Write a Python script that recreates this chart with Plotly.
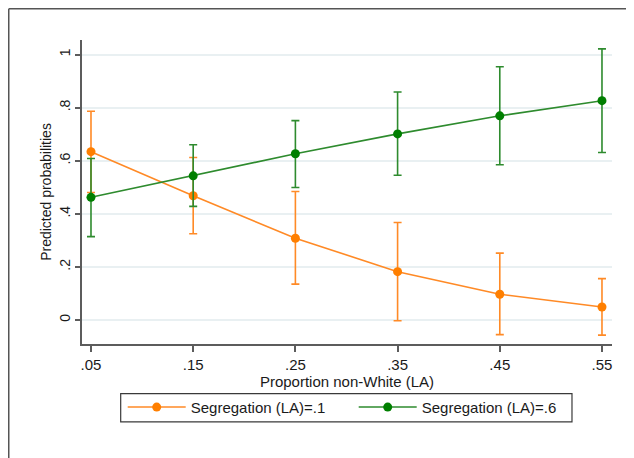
import plotly.graph_objects as go

# ---- data ----
x_vals = [0.05, 0.15, 0.25, 0.35, 0.45, 0.55]
x_ticktext = [".05", ".15", ".25", ".35", ".45", ".55"]
y_tickvals = [0, 0.2, 0.4, 0.6, 0.8, 1.0]
y_ticktext = ["0", ".2", ".4", ".6", ".8", "1"]

seg01_name = "Segregation (LA)=.1"
seg01_prob = [0.634, 0.468, 0.308, 0.182, 0.097, 0.049]
seg01_lo = [0.480, 0.325, 0.135, -0.003, -0.055, -0.057]
seg01_hi = [0.786, 0.612, 0.484, 0.367, 0.252, 0.156]

seg06_name = "Segregation (LA)=.6"
seg06_prob = [0.462, 0.543, 0.626, 0.701, 0.769, 0.826]
seg06_lo = [0.314, 0.428, 0.499, 0.545, 0.585, 0.631]
seg06_hi = [0.608, 0.660, 0.751, 0.859, 0.954, 1.021]

FONT = "Liberation Sans, Arial, Helvetica, sans-serif"
ORANGE_M = "#ff7f00"
ORANGE_L = "#ff8a26"
GREEN_M = "#007f00"
GREEN_L = "#2e8b2e"
AXIS = "#5c5c5c"


def series(name, x, y, lo, hi, mcol, lcol):
    plus = [h - v for h, v in zip(hi, y)]
    minus = [v - l for v, l in zip(y, lo)]
    return go.Scatter(
        x=x, y=y, name=name, mode="lines+markers",
        line=dict(color=lcol, width=1.6),
        marker=dict(color=mcol, size=9),
        error_y=dict(type="data", symmetric=False, array=plus, arrayminus=minus,
                     color=lcol, thickness=1.6, width=4),
    )


fig = go.Figure()
fig.add_trace(series(seg01_name, x_vals, seg01_prob, seg01_lo, seg01_hi, ORANGE_M, ORANGE_L))
fig.add_trace(series(seg06_name, x_vals, seg06_prob, seg06_lo, seg06_hi, GREEN_M, GREEN_L))

fig.update_layout(
    width=626, height=450,
    margin=dict(l=74, r=22, t=32, b=114, autoexpand=False),
    paper_bgcolor="white", plot_bgcolor="white",
    font=dict(family=FONT, size=15, color="#1a1a1a"),
    showlegend=True,
    legend=dict(
        orientation="h", x=0.0768, xanchor="left", y=-0.154, yanchor="top",
        borderwidth=0, bgcolor="rgba(0,0,0,0)",
        font=dict(size=15, family=FONT, color="#1a1a1a"),
        itemwidth=58, entrywidth=158, entrywidthmode="pixels",
    ),
    xaxis=dict(
        range=[0.0412, 0.5598], tickmode="array", tickvals=x_vals, ticktext=x_ticktext,
        showgrid=False, zeroline=False,
        showline=True, linecolor=AXIS, linewidth=1.5,
        ticks="outside", ticklen=6, tickwidth=1.5, tickcolor=AXIS,
        tickfont=dict(size=15, family=FONT, color="#1a1a1a"),
        title=dict(text="Proportion non-White (LA)", standoff=2,
                   font=dict(size=15, family=FONT, color="#1a1a1a")),
    ),
    yaxis=dict(
        range=[-0.0904, 1.0546], tickmode="array", tickvals=y_tickvals, ticktext=y_ticktext,
        tickangle=-90,
        showgrid=True, gridcolor="#e9f0f2", gridwidth=1.5, zeroline=False,
        showline=True, linecolor=AXIS, linewidth=1.5,
        ticks="outside", ticklen=5, tickwidth=1.5, tickcolor=AXIS,
        tickfont=dict(size=14, family=FONT, color="#1a1a1a"),
        title=dict(text="Predicted probabilities", standoff=2,
                   font=dict(size=14, family=FONT, color="#1a1a1a")),
    ),
    shapes=[
        # outer frame (left and top edges)
        dict(type="line", xref="paper", yref="paper", x0=-0.1382, x1=-0.1382, y0=1.1028, y1=-0.40,
             line=dict(color="#555555", width=1.5)),
        dict(type="line", xref="paper", yref="paper", x0=-0.1382, x1=1.06, y0=1.1028, y1=1.1028,
             line=dict(color="#555555", width=1.5)),
        # legend box
        dict(type="rect", xref="paper", yref="paper", x0=0.073, x1=0.9245, y0=-0.1635, y1=-0.2562,
             line=dict(color="#3a3a3a", width=1.2), fillcolor="rgba(0,0,0,0)", layer="below"),
    ],
)

fig.write_html("out.html")
